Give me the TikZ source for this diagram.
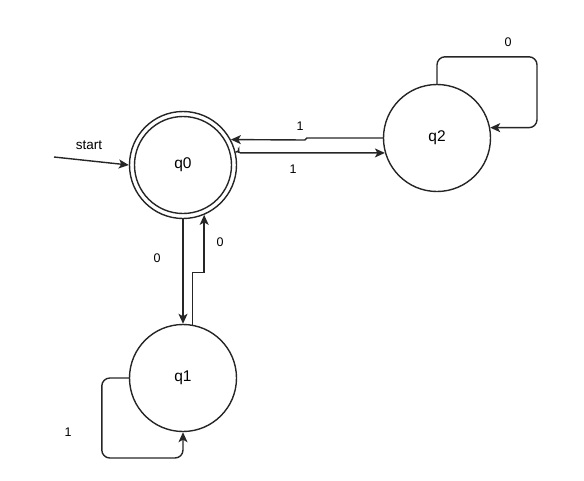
\documentclass[tikz,border=0pt]{standalone}
\usepackage{fontspec}
\setmainfont{Liberation Sans}
\usetikzlibrary{arrows.meta}
\begin{document}
\begin{tikzpicture}[x=1pt,y=-1pt,
  state/.style={circle,draw=black!85,line width=1.4pt,minimum size=107pt,inner sep=0pt,font=\fontsize{15.5}{15.5}\selectfont},
  arr/.style={draw=black!85,line width=1.4pt,-{Stealth[length=10pt,width=9pt,inset=2.5pt]}},
  lbl/.style={font=\fontsize{12.5}{12.5}\selectfont,inner sep=0pt}]
\useasboundingbox (0,0) rectangle (584,480);
\node[state] (q0) at (183,165) {q0};
\draw[black!85,line width=1.4pt] (q0.center) circle[radius=48.5pt];
\node[state] (q1) at (183,378) {q1};
\node[state] (q2) at (437,138) {q2};
\coordinate (s) at (54,157);
\draw[arr] (s) -- (q0.west);
\node[lbl,font=\fontsize{13.5}{13.5}\selectfont] (ls) at (89,145) {start};
% q2 -> q0
\draw[arr] (q2.west) -- ++(-76,0) -- ++(-2,2) -- (q0.28);
\node[lbl] (l1) at (300,126) {1};
% q0 -> q2
\draw[arr,rounded corners=2pt] (q0.14) -- ++(3,0) -- ++(0,-1) |- (q2.196);
\node[lbl] (l2) at (293,169) {1};
% q0 -> q1
\draw[arr] (q0.south) -- (q1.north);
\node[lbl] (l3) at (157,258) {0};
% q1 -> q0
\draw[arr] (q1.80) -- ++(0,-52) -| (q0.-67);
\node[lbl] (l4) at (220,242) {0};
% q1 loop
\draw[arr,rounded corners=8pt] (q1.west) -- ++(-27,0) -- ++(0,80) -| (q1.south);
\node[lbl] (l5) at (68,432) {1};
% q2 loop
\draw[arr,rounded corners=8pt] (q2.north) -- ++(0,-27) -- ++(100,0) |- (q2.11);
\node[lbl] (l6) at (508,42) {0};
\end{tikzpicture}
\end{document}
